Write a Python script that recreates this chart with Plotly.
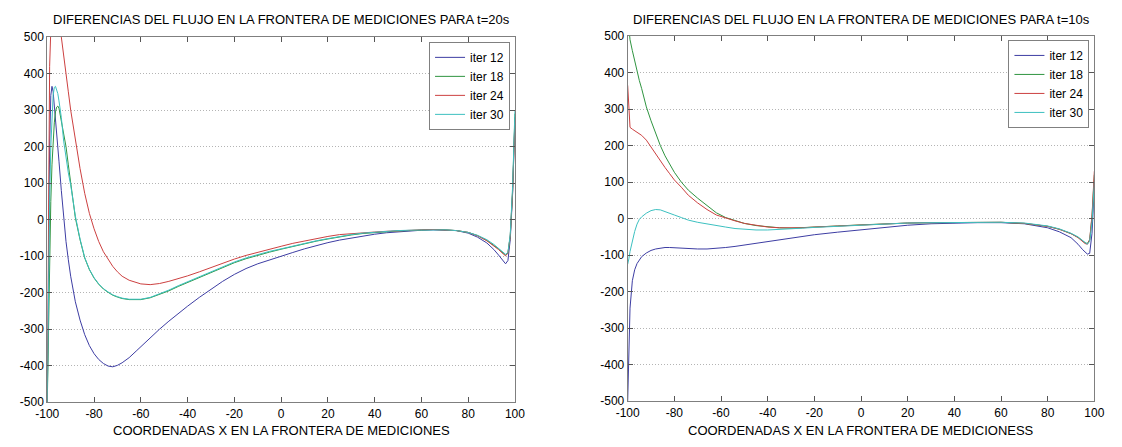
import plotly.graph_objects as go

# ---- t = 20 s : flux differences along the measurement boundary ----
x_t20 = [-100, -99.5, -99, -98.5, -98, -97.5, -97, -96.5, -96, -95.5, -95, -94, -93, -92, -91, -90,
         -88, -86, -84, -82, -80, -78, -76, -74, -72, -70, -68, -65, -62, -60, -56, -52, -48, -44,
         -40, -35, -30, -25, -20, -15, -10, -5, 0, 5, 10, 15, 20, 25, 30, 35, 40, 45, 50, 55, 60,
         65, 70, 75, 80, 84, 88, 91, 93, 95, 96, 97, 98, 99, 100]

t20_iter12 = [-500, -100, 200, 340, 365, 350, 315, 280, 245, 200, 160, 80, 0, -60, -110, -155,
              -225, -275, -315, -345, -367, -383, -394, -401, -403, -399, -392, -378, -360, -348,
              -323, -300, -278, -257, -237, -213, -190, -169, -150, -134, -121, -110, -100, -90,
              -80, -71, -63, -56, -50, -45, -40, -36, -33, -31, -29, -28, -28, -30, -37, -48, -64,
              -82, -97, -113, -121, -112, -55, 70, 280]

t20_iter18 = [-500, -300, -100, 50, 150, 215, 265, 295, 308, 311, 305, 270, 235, 200, 150, 100,
              5, -55, -105, -137, -160, -177, -190, -199, -207, -212, -216, -219, -220, -219,
              -214, -205, -195, -183, -172, -158, -144, -130, -118, -107, -97, -89, -81, -73,
              -66, -59, -53, -47, -42, -38, -35, -33, -31, -30, -28, -27, -28, -30, -35, -44, -57,
              -70, -80, -92, -97, -92, -45, 80, 290]

t20_iter24 = [-500, 100, 420, 520, 580, 610, 620, 615, 600, 580, 555, 500, 445, 405, 350, 300,
              215, 140, 72, 17, -25, -60, -88, -110, -128, -143, -155, -166, -173, -176,
              -178, -175, -169, -162, -154, -143, -131, -119, -108, -98, -89, -81, -73, -65,
              -58, -51, -46, -41, -38, -36, -34, -32, -30, -29, -28, -27, -28, -30, -35, -44, -58,
              -72, -82, -94, -99, -92, -45, 75, 270]

t20_iter30 = [-500, -200, 50, 200, 290, 340, 362, 365, 355, 345, 325, 280, 215, 165, 128, 95,
              10, -53, -104, -136, -159, -176, -189, -198, -206, -211, -215, -218, -219, -218,
              -213, -204, -193, -181, -170, -156, -142, -128, -116, -105, -95, -87, -80, -72,
              -65, -58, -52, -46, -41, -37, -34, -32, -30, -29, -28, -27, -28, -30, -35, -43, -55,
              -68, -78, -90, -95, -90, -40, 90, 300]

# ---- t = 10 s ----
x_t10 = [-100, -99.7, -99.5, -99, -98, -97, -96, -95, -94, -92, -90, -88, -86, -84, -82, -80,
         -77, -74, -70, -66, -62, -58, -54, -50, -45, -40, -35, -30, -25, -20, -10, 0, 10, 20,
         30, 40, 50, 60, 70, 80, 85, 90, 93, 95, 96, 97, 98, 99, 100]

t10_iter12 = [-500, -420, -330, -245, -170, -140, -123, -112, -104, -94, -87, -83, -80, -79, -79,
              -80, -81, -82, -83, -83, -82, -79, -76, -72, -67, -62, -57, -53, -48, -44, -37,
              -30, -24, -18, -14, -12, -11, -11, -14, -25, -36, -52, -70, -85, -92, -97, -95,
              -40, 90]

t10_iter18 = [560, 530, 510, 490, 460, 430, 400, 378, 356, 306, 268, 232, 200, 172, 148, 127,
              100, 78, 56, 35, 16, 3, -6, -13, -19, -23, -25, -26, -25, -23, -20, -17, -14, -12,
              -11, -10, -10, -10, -13, -21, -29, -41, -51, -61, -66, -68, -58, 5, 120]

t10_iter24 = [365, 330, 295, 250, 245, 241, 238, 234, 228, 215, 196, 176, 157, 140, 123, 106,
              86, 64, 43, 25, 10, 1, -6, -13, -19, -23, -25, -26, -25, -23, -20, -17, -14, -12,
              -11, -10, -10, -10, -13, -21, -29, -41, -52, -62, -68, -70, -58, 10, 130]

t10_iter30 = [-125, -118, -110, -90, -60, -35, -15, -2, 5, 15, 22, 25, 24, 20, 15, 10, 3, -4,
              -10, -15, -19, -23, -27, -29, -31, -31, -30, -28, -26, -24, -21, -18, -14, -12,
              -11, -10, -10, -10, -12, -20, -28, -40, -50, -60, -66, -70, -62, -10, 100]

series_names = ["iter 12", "iter 18", "iter 24", "iter 30"]
series_colors = ["#3d3da3", "#2f9440", "#cc4040", "#3cc0c0"]

x_ticks = [-100, -80, -60, -40, -20, 0, 20, 40, 60, 80, 100]
y_ticks = [-500, -400, -300, -200, -100, 0, 100, 200, 300, 400, 500]
# plain hyphen-minus labels
x_ticktext = [str(v) for v in x_ticks]
y_ticktext = [str(v) for v in y_ticks]

titles = ["DIFERENCIAS DEL FLUJO EN LA FRONTERA DE MEDICIONES PARA t=20s",
          "DIFERENCIAS DEL FLUJO EN LA FRONTERA DE MEDICIONES PARA t=10s"]
xlabels = ["COORDENADAS X EN LA FRONTERA DE MEDICIONES",
           "COORDENADAS X EN LA FRONTERA DE MEDICIONESS"]

W, H = 1122, 447
FONT = "Liberation Sans, Arial, Helvetica, sans-serif"

fig = go.Figure()

panels = [
    (x_t20, [t20_iter12, t20_iter18, t20_iter24, t20_iter30], "x", "y", "legend"),
    (x_t10, [t10_iter12, t10_iter18, t10_iter24, t10_iter30], "x2", "y2", "legend2"),
]
for xs, ys_list, xa, ya, lg in panels:
    for name, color, ys in zip(series_names, series_colors, ys_list):
        fig.add_trace(go.Scatter(
            x=xs, y=ys, mode="lines", name=name,
            line=dict(color=color, width=1),
            xaxis=xa, yaxis=ya, legend=lg,
        ))

# axes boxes in pixels: (left, right, top, bottom)
boxes = [(36, 513, 31, 408), (628, 1104, 30, 407)]

def xdom(b):
    return [b[0] / W, b[1] / W]

def ydom(b):
    return [1 - b[3] / H, 1 - b[2] / H]

axis_common = dict(
    showline=True, linecolor="#7f7f7f", linewidth=1, mirror="ticks",
    ticks="inside", ticklen=5, tickcolor="#555555", zeroline=False,
    tickfont=dict(size=12, color="black", family=FONT),
)
grid_style = dict(showgrid=True, gridcolor="#b4b4b4", griddash="1px,2px", gridwidth=1)

fig.update_layout(
    width=W, height=H,
    margin=dict(l=0, r=0, t=0, b=0),
    paper_bgcolor="white", plot_bgcolor="white",
    font=dict(family=FONT, size=12, color="black"),
    xaxis=dict(domain=xdom(boxes[0]), range=[-100, 100], tickvals=x_ticks,
               ticktext=x_ticktext, showgrid=False, anchor="y", **axis_common),
    yaxis=dict(domain=ydom(boxes[0]), range=[-500, 500], tickvals=y_ticks,
               ticktext=y_ticktext, anchor="x", **grid_style, **axis_common),
    xaxis2=dict(domain=xdom(boxes[1]), range=[-100, 100], tickvals=x_ticks,
                ticktext=x_ticktext, showgrid=False, anchor="y2", **axis_common),
    yaxis2=dict(domain=ydom(boxes[1]), range=[-500, 500], tickvals=y_ticks,
                ticktext=y_ticktext, anchor="x2", **grid_style, **axis_common),
    legend=dict(x=508 / W, y=1 - 36 / H, xanchor="right", yanchor="top",
                bgcolor="white", bordercolor="#808080", borderwidth=1,
                font=dict(size=12, family=FONT), tracegroupgap=0),
    legend2=dict(x=1099 / W, y=1 - 34 / H, xanchor="right", yanchor="top",
                 bgcolor="white", bordercolor="#808080", borderwidth=1,
                 font=dict(size=12, family=FONT), tracegroupgap=0),
    showlegend=True,
)

for b, t, xl in zip(boxes, titles, xlabels):
    cx = (b[0] + b[1]) / 2 / W
    fig.add_annotation(text=t, x=cx, y=1 - 13 / H, xref="paper", yref="paper",
                       xanchor="center", yanchor="middle", showarrow=False,
                       font=dict(size=13, family=FONT, color="black"))
    fig.add_annotation(text=xl, x=cx, y=1 - 437 / H, xref="paper", yref="paper",
                       xanchor="center", yanchor="middle", showarrow=False,
                       font=dict(size=13, family=FONT, color="black"))

fig.write_html("out.html")
